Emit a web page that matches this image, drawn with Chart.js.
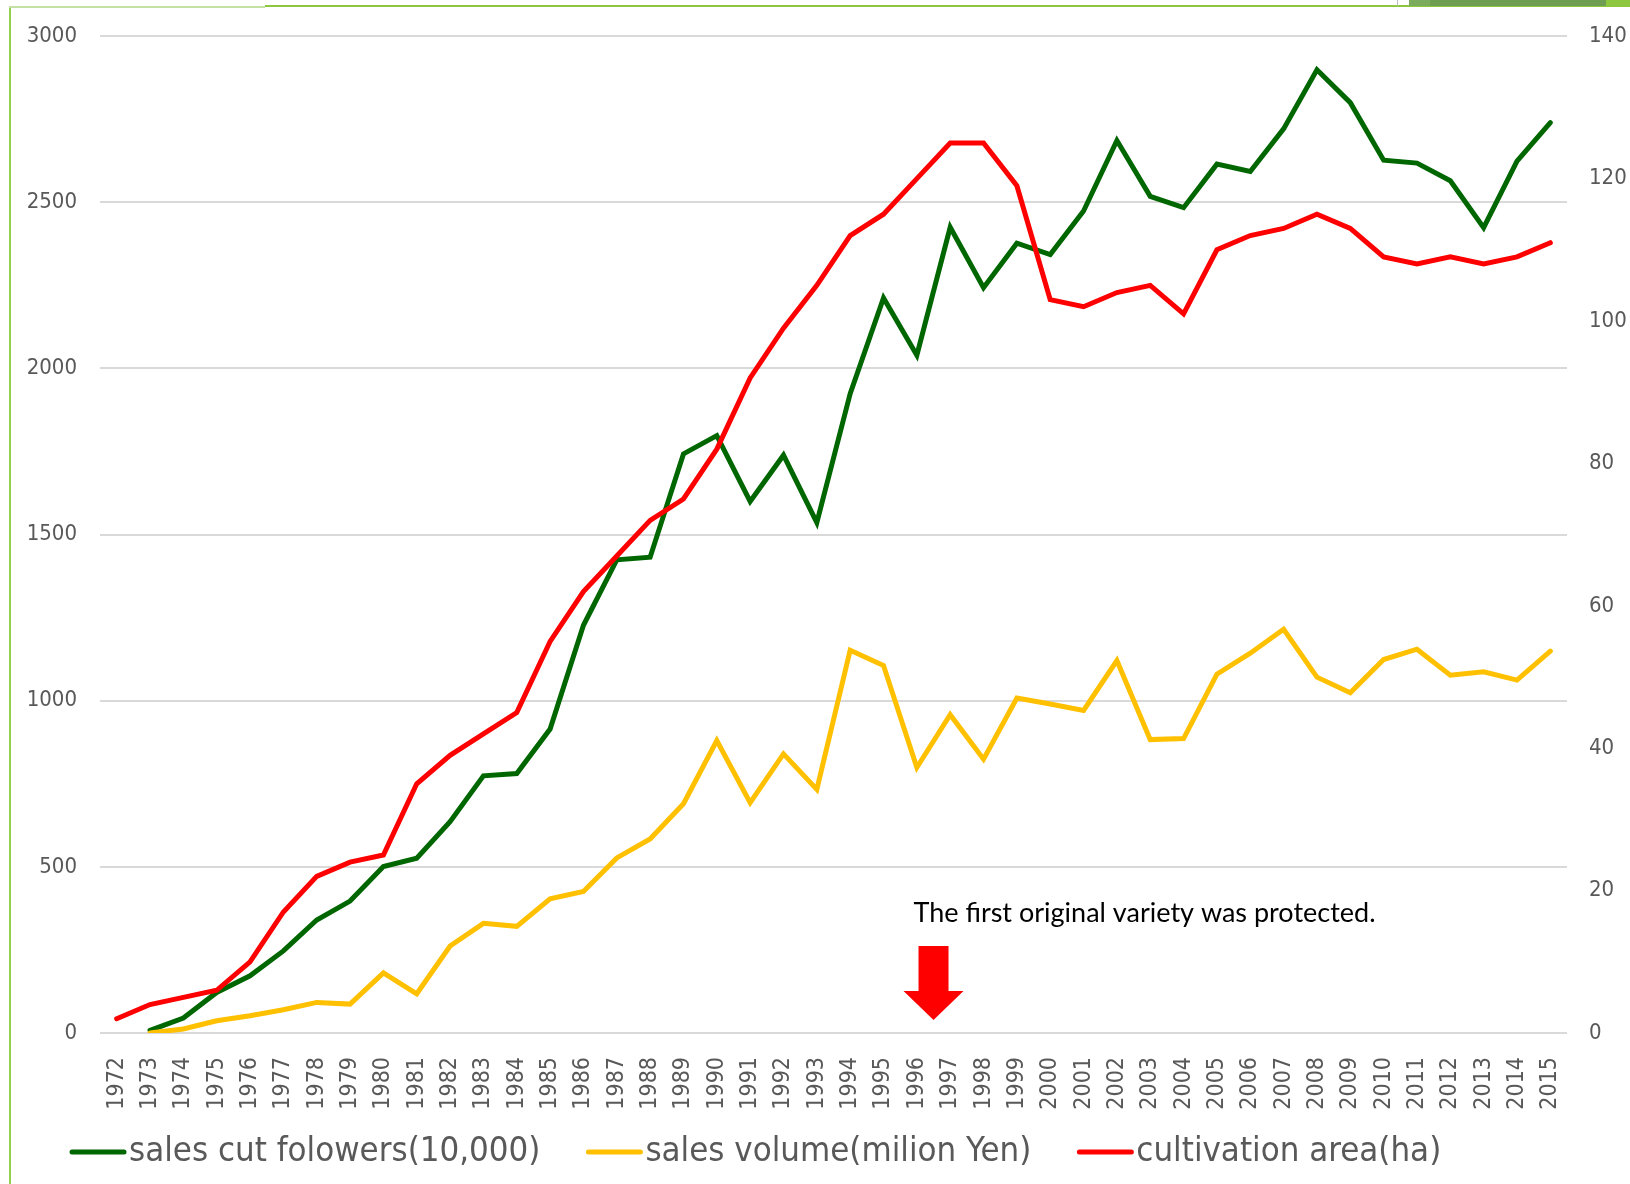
<!DOCTYPE html>
<html>
<head>
<meta charset="utf-8">
<script src="https://cdn.jsdelivr.net/npm/chart.js@4.4.1/dist/chart.umd.min.js"></script>
<style>
  body { margin: 0; background: #fff; }
  #wrap { position: relative; width: 1630px; height: 1184px; overflow: hidden; }
  .deco { position: absolute; }
</style>
</head>
<body>
<div id="wrap">
  <canvas id="chart"></canvas>
  <!-- slide frame bits -->
  <div class="deco" style="left:9px;top:6px;width:2px;height:1178px;background:#92d050"></div>
  <div class="deco" style="left:9px;top:6px;width:256px;height:2px;background:#c5e0a5"></div>
  <div class="deco" style="left:265px;top:5px;width:1365px;height:2px;background:#8dc63f"></div>
  <div class="deco" style="left:1397px;top:0;width:1px;height:6px;background:#bbbbbb"></div>
  <div class="deco" style="left:1409px;top:0;width:21px;height:6px;background:#7bab5c"></div>
  <div class="deco" style="left:1430px;top:0;width:176px;height:6px;background:#6e9e52"></div>
  <div class="deco" style="left:1606px;top:0;width:24px;height:6px;background:#8dc63f"></div>
</div>
<script>
const years = ['1972','1973','1974','1975','1976','1977','1978','1979','1980','1981',
  '1982','1983','1984','1985','1986','1987','1988','1989','1990','1991',
  '1992','1993','1994','1995','1996','1997','1998','1999','2000','2001',
  '2002','2003','2004','2005','2006','2007','2008','2009','2010','2011',
  '2012','2013','2014','2015'];

// sales cut flowers (10,000) - left axis
const cutFlowers = [null, 8, 45, 122, 172, 247, 340, 397, 501, 526,
  636, 774, 781, 915, 1227, 1424, 1432, 1743, 1798, 1600,
  1739, 1536, 1924, 2212, 2040, 2425, 2243, 2377, 2343, 2474,
  2686, 2518, 2484, 2615, 2593, 2721, 2899, 2800, 2627, 2618,
  2565, 2424, 2624, 2740];

// sales volume (million yen) - left axis
const salesVolume = [null, 0, 12, 37, 52, 70, 92, 87, 181, 118,
  262, 330, 321, 404, 426, 527, 584, 690, 880, 693,
  840, 733, 1152, 1106, 799, 958, 824, 1008, 990, 971,
  1121, 883, 886, 1080, 1143, 1215, 1071, 1024, 1124, 1155,
  1077, 1087, 1062, 1149];

// cultivation area (ha) - right axis
const cultivationArea = [2, 4, 5, 6, 10, 17, 22, 24, 25, 35,
  39, 42, 45, 55, 62, 67, 72, 75, 82, 92,
  99, 105, 112, 115, 120, 125, 125, 119, 103, 102,
  104, 105, 101, 110, 112, 113, 115, 113, 109, 108,
  109, 108, 109, 111];

const seriesNames = ['sales cut folowers(10,000)', 'sales volume(milion Yen)', 'cultivation area(ha)'];
const seriesColors = ['#006600', '#ffc000', '#ff0000'];

const noteText = 'The first original variety was protected.';
const noteIndex = 24.5; // between 1996 and 1997

const tickFont = "'DejaVu Sans Condensed', 'Liberation Sans', sans-serif";
const tickColor = '#595959';

const notePlugin = {
  id: 'protectedNote',
  afterDatasetsDraw(chart) {
    const { ctx, scales: { x, y } } = chart;
    const cx = x.getPixelForValue(noteIndex);
    const base = y.getPixelForValue(0);
    ctx.save();
    ctx.fillStyle = '#ff0000';
    ctx.beginPath();
    ctx.moveTo(cx - 15, base - 87);
    ctx.lineTo(cx + 15, base - 87);
    ctx.lineTo(cx + 15, base - 42);
    ctx.lineTo(cx + 30, base - 42);
    ctx.lineTo(cx, base - 13);
    ctx.lineTo(cx - 30, base - 42);
    ctx.lineTo(cx - 15, base - 42);
    ctx.closePath();
    ctx.fill();
    ctx.fillStyle = '#000';
    ctx.font = "27px Lato, 'Open Sans', sans-serif";
    ctx.textBaseline = 'alphabetic';
    ctx.fillText(noteText, cx - 20, base - 111);
    ctx.restore();
  }
};

const legendPlugin = {
  id: 'bottomLegend',
  afterDraw(chart) {
    const ctx = chart.ctx;
    const ly = chart.chartArea.bottom + 119;
    let lx = 72;
    ctx.save();
    ctx.font = "34.5px " + tickFont;
    ctx.textBaseline = 'middle';
    chart.data.datasets.forEach(ds => {
      ctx.strokeStyle = ds.borderColor;
      ctx.lineWidth = 5;
      ctx.lineCap = 'round';
      ctx.beginPath();
      ctx.moveTo(lx, ly);
      ctx.lineTo(lx + 52, ly);
      ctx.stroke();
      lx += 57;
      ctx.fillStyle = tickColor;
      ctx.fillText(ds.label, lx, ly);
      lx += ctx.measureText(ds.label).width + 48;
    });
    ctx.restore();
  }
};

new Chart(document.getElementById('chart'), {
  type: 'line',
  data: {
    labels: years,
    datasets: [
      { label: seriesNames[0], data: cutFlowers, yAxisID: 'y', order: 3 },
      { label: seriesNames[1], data: salesVolume, yAxisID: 'y', order: 2 },
      { label: seriesNames[2], data: cultivationArea, yAxisID: 'y1', order: 1 }
    ].map((ds, i) => Object.assign(ds, {
      borderColor: seriesColors[i],
      backgroundColor: seriesColors[i],
      borderWidth: 5,
      borderCapStyle: 'round',
      pointRadius: 0,
      tension: 0,
      spanGaps: false
    }))
  },
  options: {
    responsive: true,
    maintainAspectRatio: false,
    animation: false,
    layout: { padding: { top: 35, left: 0, right: 0, bottom: 0 } },
    plugins: {
      legend: { display: false },
      tooltip: { enabled: false }
    },
    scales: {
      x: {
        offset: true,
        grid: { display: false, drawTicks: false },
        border: { display: false },
        ticks: {
          autoSkip: false,
          minRotation: 90,
          maxRotation: 90,
          padding: 24,
          color: tickColor,
          font: { family: tickFont, size: 23 }
        },
        afterFit: s => { s.height = 151; }
      },
      y: {
        position: 'left',
        min: 0,
        max: 3000,
        border: { display: false },
        grid: { color: '#d9d9d9', lineWidth: 2, drawTicks: false },
        ticks: {
          stepSize: 500,
          padding: 23,
          color: tickColor,
          font: { family: tickFont, size: 22 },
          callback: v => String(v)
        },
        afterFit: s => { s.width = 100; }
      },
      y1: {
        position: 'right',
        min: 0,
        max: 140,
        border: { display: false },
        grid: { display: false, drawTicks: false },
        ticks: {
          stepSize: 20,
          padding: 22,
          color: tickColor,
          font: { family: tickFont, size: 22 },
          callback: v => String(v)
        },
        afterFit: s => { s.width = 63; }
      }
    }
  },
  plugins: [notePlugin, legendPlugin]
});
</script>
</body>
</html>
